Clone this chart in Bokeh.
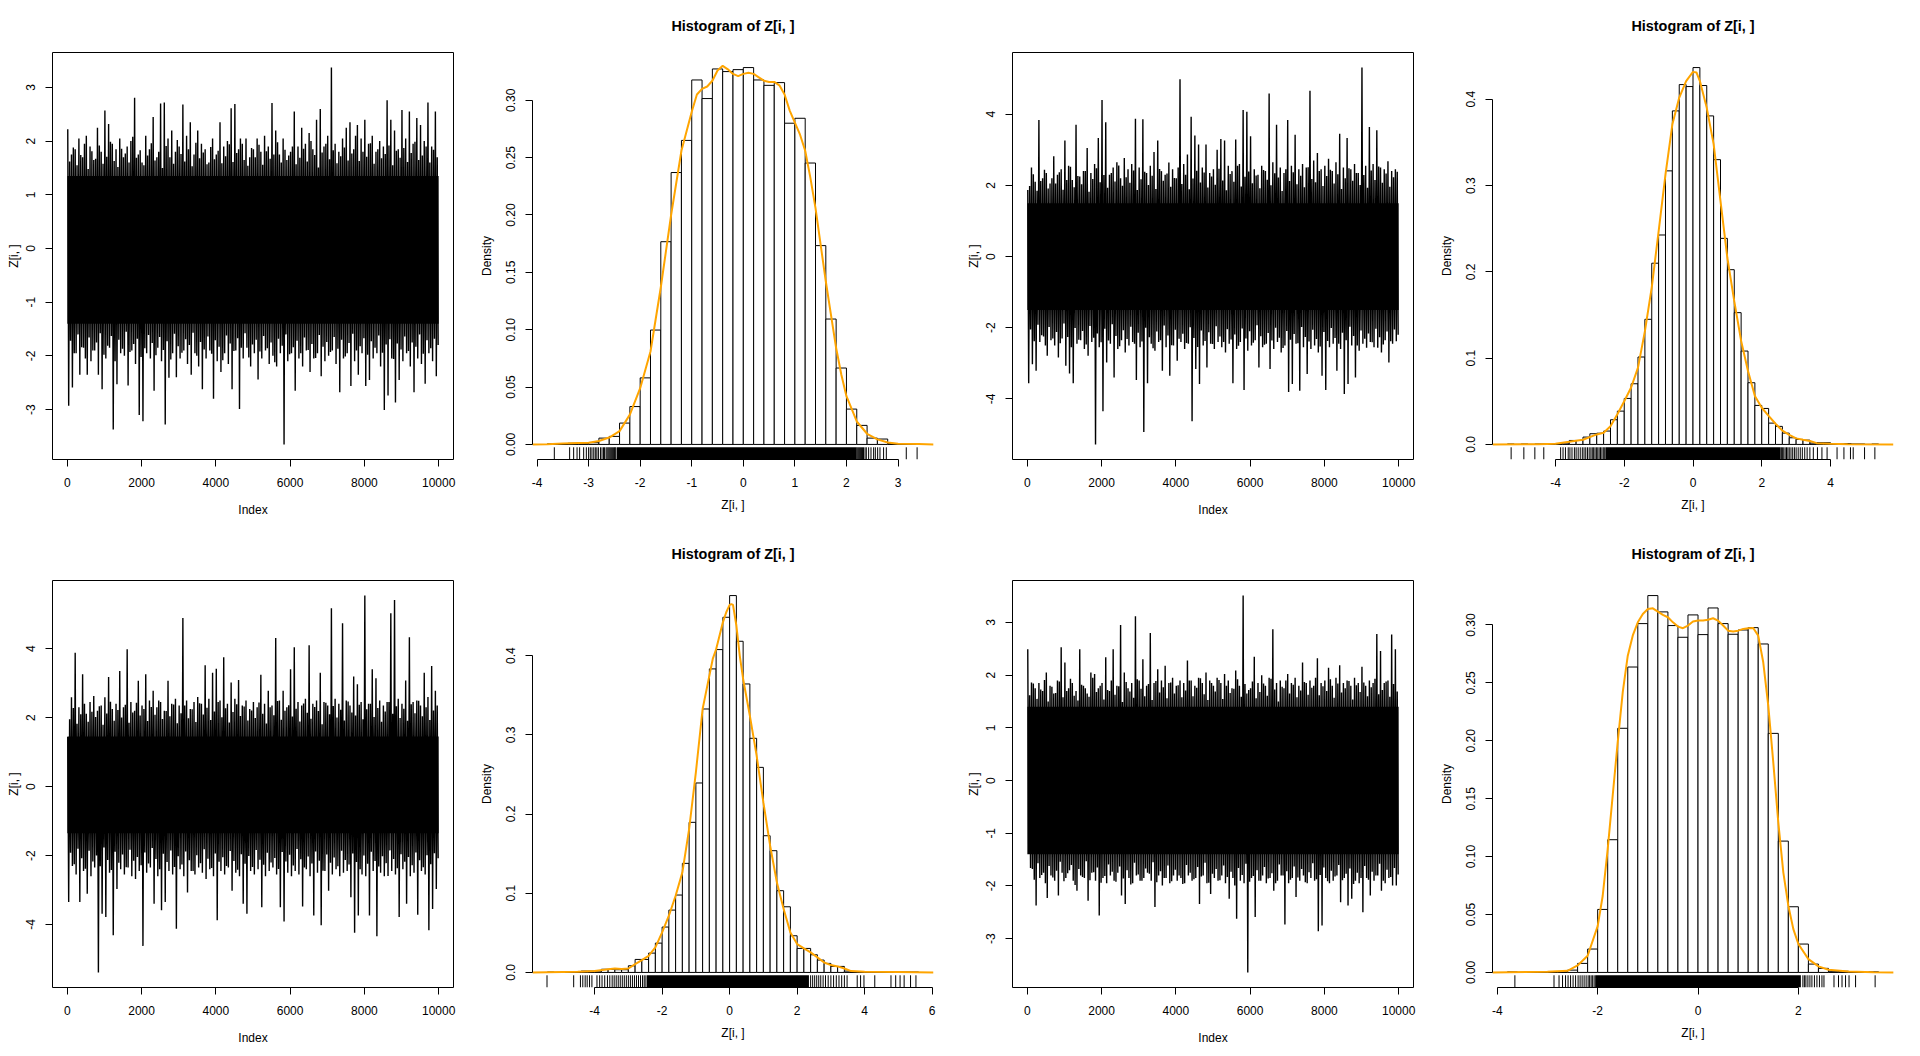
from bokeh.plotting import figure
from bokeh.layouts import gridplot
from bokeh.models import Range1d, FixedTicker, NumeralTickFormatter, LinearAxis
from bokeh.embed import file_html
from bokeh.resources import INLINE

# ---------------- data: trace plots ----------------
# per 100-index slot: main extremes (hi/lo, incl. the tall spikes) and secondary extremes (fill)
trace_slot = 100
trace_n = 10000

trace1_hi = [2.22, 1.75, 1.85, 2.05, 1.70, 2.10, 1.90, 1.65, 2.25, 1.80,
             2.57, 2.32, 1.95, 1.85, 2.05, 1.70, 1.90, 2.00, 2.81, 1.75,
             1.60, 2.10, 1.85, 2.45, 1.70, 2.70, 2.72, 2.05, 2.20, 1.80,
             1.90, 2.68, 2.10, 2.35, 1.75, 2.20, 1.95, 1.85, 1.60, 2.05,
             1.75, 2.35, 1.90, 2.00, 2.61, 2.69, 1.85, 1.95, 2.05, 1.70,
             1.85, 2.05, 1.80, 2.10, 1.90, 2.71, 2.20, 1.75, 2.05, 1.65,
             1.80, 2.55, 1.90, 2.25, 1.95, 2.15, 1.85, 2.40, 2.60, 1.90,
             2.10, 3.37, 1.95, 1.80, 2.05, 2.25, 2.35, 1.85, 2.30, 2.05,
             2.40, 1.95, 2.10, 1.80, 2.00, 1.90, 2.76, 2.40, 2.20, 1.85,
             2.58, 2.05, 2.55, 1.95, 2.43, 2.30, 2.00, 2.72, 1.90, 2.55]
trace1_lo = [-2.93, -2.59, -1.95, -2.35, -1.85, -2.35, -2.10, -1.90, -2.35, -2.62,
             -2.05, -1.85, -3.37, -2.53, -1.95, -2.00, -2.55, -1.90, -2.15, -3.10,
             -3.22, -1.95, -2.05, -2.65, -1.85, -2.10, -3.28, -2.41, -1.95, -2.40,
             -2.05, -1.90, -2.15, -2.35, -1.95, -2.20, -2.62, -2.05, -1.90, -2.80,
             -2.10, -2.30, -1.95, -2.15, -2.62, -1.90, -2.99, -2.05, -1.85, -2.20,
             -1.95, -2.44, -2.05, -1.90, -2.15, -2.00, -2.20, -1.95, -3.65, -2.10,
             -1.95, -2.65, -2.05, -2.20, -1.90, -2.30, -2.05, -1.95, -2.38, -2.10,
             -2.00, -1.90, -2.15, -2.68, -2.05, -1.95, -2.56, -2.10, -2.35, -1.95,
             -2.56, -2.45, -2.05, -1.95, -2.20, -3.01, -2.74, -2.05, -2.87, -2.45,
             -2.10, -1.95, -2.20, -2.68, -2.05, -2.15, -2.52, -1.95, -2.10, -2.38]
trace1_hi_fill = [1.62, 1.88, 1.55, 1.74, 1.95, 1.48, 1.81, 1.67, 1.92, 1.58,
                  1.71, 1.99, 1.63, 1.52, 1.86, 1.77, 1.60, 2.08, 1.69, 1.83,
                  1.55, 1.73, 1.96, 1.64, 1.80, 1.50, 1.91, 1.70, 1.58, 2.02,
                  1.76, 1.62, 1.85, 1.53, 1.97, 1.68, 1.79, 1.57, 1.89, 1.66,
                  1.82, 1.59, 1.72, 1.94, 1.61, 1.78, 2.05, 1.65, 1.54, 1.87,
                  1.70, 1.93, 1.56, 1.81, 1.67, 1.75, 1.98, 1.60, 1.84, 1.73,
                  1.90, 1.57, 1.69, 1.86, 1.62, 2.00, 1.74, 1.51, 1.79, 1.95,
                  1.66, 1.83, 1.59, 1.72, 1.88, 1.64, 1.77, 2.10, 1.63, 1.80,
                  1.71, 1.96, 1.58, 1.85, 1.68, 1.76, 1.92, 1.55, 1.82, 1.69,
                  1.87, 1.61, 1.78, 1.99, 1.65, 1.73, 1.90, 1.60, 1.84, 1.70]
trace1_lo_fill = [-1.72, -1.95, -1.60, -1.84, -2.05, -1.66, -1.90, -1.75, -1.58, -1.98,
                  -1.81, -1.63, -2.10, -1.70, -1.87, -1.55, -1.93, -1.78, -1.68, -2.02,
                  -1.86, -1.61, -1.76, -1.99, -1.65, -1.89, -1.73, -2.07, -1.59, -1.82,
                  -1.94, -1.69, -1.80, -1.57, -2.00, -1.74, -1.88, -1.64, -1.96, -1.71,
                  -1.83, -2.08, -1.62, -1.77, -1.91, -1.67, -1.85, -1.58, -2.03, -1.79,
                  -1.70, -1.92, -1.63, -1.86, -1.75, -2.12, -1.68, -1.81, -1.60, -1.97,
                  -1.84, -1.72, -1.95, -1.66, -1.89, -1.78, -2.04, -1.61, -1.83, -1.74,
                  -1.93, -1.65, -1.87, -1.70, -2.01, -1.76, -1.59, -1.90, -1.82, -1.67,
                  -1.98, -1.73, -1.85, -1.62, -1.94, -1.79, -1.69, -2.06, -1.77, -1.88,
                  -1.64, -1.91, -1.75, -1.83, -1.60, -1.96, -1.71, -1.86, -1.68, -1.80]
trace1_core = (-1.40, 1.35)

trace2_hi = [1.87, 2.50, 2.10, 3.84, 2.20, 2.35, 2.05, 2.82, 2.30, 2.45,
             3.26, 2.55, 2.15, 3.70, 2.25, 2.40, 3.05, 2.35, 2.60, 3.33,
             4.40, 3.77, 2.30, 2.50, 2.65, 2.20, 2.77, 2.45, 2.60, 3.87,
             2.50, 3.86, 2.35, 2.55, 2.94, 3.26, 2.40, 2.30, 2.64, 2.45,
             2.20, 4.98, 2.60, 2.87, 3.93, 3.40, 3.15, 2.50, 3.15, 2.35,
             2.45, 3.00, 3.30, 3.26, 2.55, 2.40, 3.29, 2.60, 4.12, 4.07,
             3.38, 2.45, 2.30, 2.55, 2.40, 4.58, 2.65, 3.70, 2.50, 2.35,
             3.84, 2.55, 3.42, 2.45, 2.60, 2.50, 4.66, 2.70, 2.91, 2.45,
             2.55, 2.75, 2.40, 2.65, 3.45, 2.50, 3.33, 2.45, 2.60, 2.35,
             5.31, 2.55, 3.64, 2.60, 3.55, 2.50, 2.45, 2.68, 2.40, 2.45]
trace2_lo = [-3.56, -3.03, -3.21, -2.40, -2.25, -2.79, -2.35, -2.50, -2.84, -2.30,
             -3.07, -3.29, -3.56, -2.45, -2.35, -2.60, -2.79, -2.40, -5.28, -2.55,
             -4.35, -2.98, -2.45, -3.40, -2.60, -2.35, -2.70, -2.50, -2.40, -3.47,
             -2.55, -4.93, -3.56, -2.45, -2.65, -2.40, -3.21, -2.55, -3.35, -2.50,
             -2.93, -2.40, -2.60, -2.45, -4.63, -3.16, -3.58, -2.50, -3.12, -2.45,
             -2.60, -2.40, -2.55, -2.70, -2.45, -3.56, -2.60, -2.40, -3.75, -2.65,
             -2.50, -2.35, -3.12, -2.55, -2.45, -3.16, -2.60, -2.40, -2.70, -2.50,
             -3.81, -3.58, -2.45, -3.77, -2.55, -3.30, -2.60, -2.50, -2.70, -3.35,
             -3.75, -2.55, -2.45, -3.21, -2.60, -3.86, -3.58, -2.50, -3.40, -2.65,
             -2.45, -2.56, -2.40, -2.55, -2.56, -2.70, -2.35, -2.98, -2.45, -2.38]
trace2_hi_fill = [1.98, 2.31, 1.85, 2.12, 2.44, 1.91, 2.20, 2.05, 2.37, 1.88,
                  2.15, 2.52, 1.95, 2.26, 2.03, 2.40, 1.82, 2.18, 2.48, 2.09,
                  2.29, 1.93, 2.35, 2.11, 2.56, 1.99, 2.23, 2.07, 2.42, 1.87,
                  2.17, 2.38, 2.01, 2.27, 1.90, 2.46, 2.13, 2.33, 1.96, 2.21,
                  2.50, 2.04, 2.30, 1.89, 2.19, 2.41, 2.08, 2.36, 1.94, 2.25,
                  2.02, 2.47, 2.14, 1.86, 2.32, 2.10, 2.55, 1.97, 2.24, 2.39,
                  2.06, 2.28, 1.92, 2.43, 2.16, 2.00, 2.34, 2.22, 1.84, 2.45,
                  2.12, 2.37, 2.03, 2.27, 1.95, 2.51, 2.18, 2.09, 2.40, 1.98,
                  2.26, 2.44, 2.05, 2.31, 1.90, 2.20, 2.48, 2.13, 2.35, 2.01,
                  2.29, 1.93, 2.42, 2.15, 2.53, 2.07, 2.33, 1.96, 2.23, 2.38]
trace2_lo_fill = [-2.05, -2.38, -1.92, -2.21, -2.50, -1.98, -2.30, -2.12, -2.44, -1.88,
                  -2.26, -2.55, -2.01, -2.34, -2.09, -2.47, -1.95, -2.28, -2.16, -2.41,
                  -2.03, -2.36, -1.90, -2.23, -2.52, -2.07, -2.32, -1.97, -2.45, -2.14,
                  -2.39, -2.00, -2.27, -2.58, -2.11, -2.35, -1.94, -2.22, -2.49, -2.06,
                  -2.31, -2.17, -2.43, -1.99, -2.29, -2.54, -2.08, -2.37, -2.13, -2.46,
                  -1.96, -2.25, -2.40, -2.04, -2.33, -2.19, -2.51, -2.02, -2.30, -2.10,
                  -2.42, -1.93, -2.24, -2.48, -2.15, -2.36, -2.00, -2.28, -2.57, -2.09,
                  -2.34, -2.18, -2.44, -1.98, -2.26, -2.39, -2.06, -2.32, -2.53, -2.12,
                  -2.37, -2.01, -2.29, -2.45, -2.14, -2.35, -1.97, -2.23, -2.50, -2.08,
                  -2.31, -2.16, -2.41, -2.03, -2.27, -2.47, -2.11, -2.38, -2.05, -2.20]
trace2_core = (-1.50, 1.50)

trace3_hi = [1.44, 2.59, 3.88, 2.30, 3.26, 2.11, 2.45, 2.63, 2.20, 2.35,
             2.59, 3.18, 2.25, 2.40, 3.35, 2.30, 3.98, 2.45, 2.20, 3.07,
             2.35, 3.26, 2.50, 2.78, 2.30, 2.45, 2.20, 3.07, 2.40, 2.55,
             2.35, 4.89, 2.50, 2.25, 2.45, 2.60, 2.40, 3.52, 2.55, 3.30,
             3.42, 2.50, 3.75, 2.40, 3.02, 2.55, 3.09, 2.35, 2.50, 2.25,
             2.45, 2.30, 3.24, 2.40, 2.78, 2.35, 4.31, 2.50, 2.78, 2.30,
             3.40, 4.04, 2.45, 2.35, 2.55, 4.10, 2.40, 2.50, 3.30, 2.45,
             2.35, 5.17, 2.55, 2.40, 4.74, 2.50, 2.35, 3.19, 2.97, 2.45,
             5.54, 2.40, 3.40, 3.14, 2.50, 2.35, 2.45, 5.03, 5.41, 2.55,
             2.40, 3.08, 4.33, 2.45, 2.50, 2.35, 3.30, 2.60, 3.50, 2.78]
trace3_lo = [-3.35, -2.30, -2.55, -3.35, -2.45, -3.11, -2.60, -2.35, -5.39, -3.69,
             -3.78, -2.50, -4.31, -2.97, -2.40, -2.55, -2.35, -2.60, -2.68, -2.45,
             -4.62, -2.50, -2.35, -3.40, -2.60, -3.59, -3.35, -2.45, -2.55, -4.12,
             -2.40, -2.60, -3.07, -2.45, -2.55, -2.35, -2.50, -2.68, -2.40, -2.60,
             -3.88, -2.45, -2.55, -2.35, -3.02, -2.50, -2.60, -3.40, -3.69, -2.45,
             -2.55, -2.40, -3.50, -2.60, -2.45, -2.35, -2.55, -3.50, -3.91, -2.50,
             -2.60, -2.45, -2.55, -3.48, -2.40, -2.60, -3.74, -2.50, -4.02, -2.45,
             -3.02, -2.55, -2.40, -2.60, -2.50, -2.45, -3.21, -4.24, -3.74, -2.55,
             -2.60, -3.74, -2.45, -4.34, -2.50, -2.60, -2.59, -2.45, -2.55, -3.78,
             -2.40, -3.40, -2.60, -2.50, -3.72, -2.45, -2.55, -4.17, -3.55, -2.97]
trace3_hi_fill = [1.95, 2.28, 1.82, 2.10, 2.40, 1.88, 2.17, 2.02, 2.33, 1.79,
                  2.12, 2.46, 1.91, 2.22, 2.00, 2.37, 1.85, 2.15, 2.43, 2.06,
                  2.25, 1.90, 2.31, 2.08, 2.50, 1.96, 2.19, 2.04, 2.38, 1.84,
                  2.13, 2.35, 1.98, 2.24, 1.87, 2.42, 2.09, 2.29, 1.93, 2.18,
                  2.45, 2.01, 2.27, 1.86, 2.16, 2.39, 2.05, 2.32, 1.92, 2.21,
                  1.99, 2.44, 2.11, 1.83, 2.30, 2.07, 2.48, 1.94, 2.20, 2.36,
                  2.03, 2.26, 1.89, 2.41, 2.14, 1.97, 2.31, 2.19, 1.81, 2.43,
                  2.10, 2.34, 2.00, 2.23, 1.92, 2.47, 2.15, 2.06, 2.37, 1.95,
                  2.24, 2.40, 2.02, 2.28, 1.88, 2.18, 2.45, 2.11, 2.33, 1.99,
                  2.26, 1.91, 2.39, 2.13, 2.49, 2.04, 2.30, 1.93, 2.21, 2.35]
trace3_lo_fill = [-1.92, -2.25, -1.80, -2.08, -2.38, -1.86, -2.17, -2.00, -2.31, -1.77,
                  -2.13, -2.42, -1.89, -2.21, -1.97, -2.34, -1.83, -2.15, -2.04, -2.28,
                  -1.91, -2.23, -1.78, -2.10, -2.40, -1.95, -2.19, -1.85, -2.33, -2.02,
                  -2.26, -1.88, -2.14, -2.45, -1.99, -2.22, -1.82, -2.09, -2.36, -1.94,
                  -2.18, -2.05, -2.30, -1.87, -2.16, -2.41, -1.96, -2.24, -2.01, -2.33,
                  -1.84, -2.12, -2.27, -1.92, -2.20, -2.07, -2.39, -1.90, -2.17, -1.98,
                  -2.29, -1.81, -2.11, -2.35, -2.03, -2.23, -1.88, -2.15, -2.44, -1.97,
                  -2.21, -2.06, -2.31, -1.86, -2.13, -2.26, -1.94, -2.19, -2.40, -2.00,
                  -2.24, -1.89, -2.16, -2.32, -2.02, -2.22, -1.85, -2.10, -2.37, -1.96,
                  -2.18, -2.04, -2.28, -1.91, -2.14, -2.34, -1.99, -2.25, -1.93, -2.08]
trace3_core = (-1.35, 1.45)

trace4_hi = [2.49, 1.86, 1.75, 1.85, 1.70, 2.05, 1.80, 1.65, 1.90, 2.53,
             2.24, 1.75, 1.85, 1.70, 2.49, 1.80, 1.65, 2.05, 2.02, 1.75,
             1.85, 2.34, 1.70, 2.49, 1.80, 2.95, 2.05, 1.75, 1.85, 3.12,
             1.90, 2.30, 1.80, 2.80, 1.85, 2.11, 1.90, 2.18, 1.85, 1.95,
             1.80, 1.90, 1.85, 2.28, 1.90, 1.80, 1.95, 1.85, 2.05, 1.90,
             1.80, 1.95, 1.85, 2.02, 1.90, 1.75, 2.09, 1.80, 3.51, 1.65,
             1.75, 2.35, 1.85, 2.00, 1.80, 1.95, 2.87, 1.85, 1.90, 1.75,
             2.02, 1.85, 1.95, 1.80, 2.24, 1.85, 1.90, 1.80, 2.32, 1.85,
             1.90, 2.14, 1.80, 1.95, 2.19, 1.85, 1.90, 1.80, 1.95, 1.85,
             2.16, 1.80, 1.90, 1.85, 2.78, 2.46, 1.85, 1.90, 2.77, 2.49]
trace4_lo = [-1.30, -1.68, -2.37, -1.85, -1.75, -2.23, -1.80, -1.90, -2.18, -1.75,
             -1.85, -1.70, -1.90, -2.09, -1.80, -1.85, -2.28, -1.75, -1.90, -2.56,
             -1.85, -1.95, -1.80, -1.90, -1.75, -2.18, -2.34, -1.85, -1.95, -1.80,
             -1.90, -1.85, -1.75, -1.90, -2.40, -1.80, -1.99, -1.85, -1.95, -1.80,
             -1.90, -1.85, -1.95, -1.80, -1.90, -1.85, -2.34, -1.80, -1.95, -2.15,
             -1.85, -1.90, -1.80, -1.95, -2.24, -1.85, -2.62, -1.90, -1.95, -3.64,
             -1.85, -2.59, -1.90, -1.80, -1.95, -1.85, -2.09, -1.90, -1.80, -2.73,
             -1.95, -1.85, -2.21, -1.90, -1.80, -1.95, -1.85, -1.90, -2.86, -2.75,
             -1.85, -1.95, -1.90, -1.80, -2.31, -1.85, -2.37, -2.24, -1.90, -1.95,
             -2.50, -1.85, -2.18, -1.90, -1.80, -2.09, -1.95, -1.85, -1.99, -1.99]
trace4_hi_fill = [1.62, 1.84, 1.55, 1.73, 1.91, 1.50, 1.78, 1.66, 1.88, 1.58,
                  1.70, 1.93, 1.61, 1.52, 1.82, 1.75, 1.59, 1.95, 1.68, 1.80,
                  1.54, 1.72, 1.90, 1.63, 1.79, 1.49, 1.87, 1.69, 1.57, 1.92,
                  1.74, 1.60, 1.83, 1.53, 1.89, 1.67, 1.77, 1.56, 1.86, 1.65,
                  1.81, 1.58, 1.71, 1.90, 1.60, 1.76, 1.94, 1.64, 1.53, 1.85,
                  1.69, 1.91, 1.55, 1.80, 1.66, 1.74, 1.92, 1.59, 1.83, 1.72,
                  1.88, 1.56, 1.68, 1.84, 1.61, 1.93, 1.73, 1.50, 1.78, 1.90,
                  1.65, 1.82, 1.58, 1.71, 1.87, 1.63, 1.76, 1.95, 1.62, 1.79,
                  1.70, 1.92, 1.57, 1.84, 1.67, 1.75, 1.89, 1.54, 1.81, 1.68,
                  1.86, 1.60, 1.77, 1.93, 1.64, 1.72, 1.88, 1.59, 1.83, 1.69]
trace4_lo_fill = [-1.66, -1.88, -1.57, -1.79, -1.95, -1.62, -1.84, -1.71, -1.54, -1.91,
                  -1.76, -1.60, -1.98, -1.68, -1.83, -1.53, -1.89, -1.74, -1.65, -1.94,
                  -1.81, -1.59, -1.73, -1.92, -1.63, -1.86, -1.70, -1.97, -1.56, -1.78,
                  -1.90, -1.67, -1.77, -1.55, -1.93, -1.72, -1.85, -1.61, -1.91, -1.69,
                  -1.80, -1.96, -1.60, -1.75, -1.87, -1.64, -1.82, -1.56, -1.94, -1.77,
                  -1.68, -1.89, -1.61, -1.83, -1.73, -1.99, -1.66, -1.79, -1.58, -1.92,
                  -1.81, -1.70, -1.90, -1.64, -1.86, -1.76, -1.95, -1.59, -1.80, -1.72,
                  -1.88, -1.63, -1.84, -1.68, -1.93, -1.74, -1.57, -1.87, -1.79, -1.65,
                  -1.91, -1.71, -1.82, -1.60, -1.89, -1.77, -1.67, -1.96, -1.75, -1.85,
                  -1.62, -1.88, -1.73, -1.80, -1.58, -1.90, -1.69, -1.83, -1.66, -1.78]
trace4_core = (-1.40, 1.40)

trace_xticks = [0, 2000, 4000, 6000, 8000, 10000]
trace1_yticks = [-3, -2, -1, 0, 1, 2, 3]
trace2_yticks = [-4, -2, 0, 2, 4]
trace3_yticks = [-4, -2, 0, 2, 4]
trace4_yticks = [-3, -2, -1, 0, 1, 2, 3]

# ---------------- data: histograms (density per 0.2 bin) ----------------
bin_width = 0.2

hist1_start = -3.8
hist1_dens = [0.0005, 0.0, 0.001, 0.001, 0.0015, 0.0055, 0.007, 0.0186, 0.033, 0.058,
              0.0997, 0.1767, 0.237, 0.265, 0.3177, 0.3015, 0.3273, 0.325, 0.3267,
              0.3285, 0.3177, 0.313, 0.3154, 0.280, 0.2843, 0.2453, 0.1733, 0.1093, 0.0666, 0.0308,
              0.0166, 0.0055, 0.0047, 0.0006, 0.0, 0.0005]
kde1_x = [-4.09, -3.8, -3.5, -3.2, -3.0, -2.8, -2.6, -2.4, -2.2, -2.0, -1.8, -1.6, -1.4, -1.2,
          -1.0, -0.9, -0.8, -0.7, -0.6, -0.5, -0.4, -0.3, -0.2, -0.1, 0.0, 0.1, 0.2, 0.3, 0.4,
          0.5, 0.6, 0.7, 0.8, 0.9, 1.0, 1.1, 1.2, 1.3, 1.4, 1.5, 1.6, 1.7, 1.8, 1.9, 2.0, 2.2,
          2.4, 2.6, 2.8, 3.0, 3.4, 3.69]
kde1_y = [0.0, 0.0002, 0.0007, 0.0012, 0.0015, 0.003, 0.006, 0.0116, 0.026, 0.049, 0.081, 0.137,
          0.200, 0.256, 0.290, 0.305, 0.310, 0.312, 0.317, 0.326, 0.330, 0.327, 0.323, 0.321,
          0.323, 0.324, 0.323, 0.320, 0.317, 0.316, 0.316, 0.313, 0.305, 0.291, 0.2805, 0.270,
          0.256, 0.2326, 0.206, 0.174, 0.142, 0.113, 0.084, 0.061, 0.042, 0.020, 0.0093, 0.0044,
          0.0017, 0.0006, 0.0003, 0.0]
rug1_dense = (-2.45, 2.20)
rug1_ticks = [-3.665, -3.368, -3.29, -3.224, -3.174, -3.096, -3.044, -3.0, -2.967, -2.935, -2.90,
              -2.87, -2.84, -2.81, -2.77, -2.74, -2.71, -2.69, -2.66, -2.64, -2.62, -2.60, -2.58,
              -2.56, -2.54, -2.52, -2.50, -2.485, -2.47,
              2.21, 2.23, 2.25, 2.27, 2.29, 2.31,
              2.33, 2.36, 2.385, 2.43, 2.476, 2.527, 2.56, 2.605, 2.65, 2.72, 2.773, 3.16, 3.37]
hist1_xticks = [-4, -3, -2, -1, 0, 1, 2, 3]
hist1_yticks = [0.0, 0.05, 0.10, 0.15, 0.20, 0.25, 0.30]

hist2_start = -5.4
hist2_dens = [0.0005, 0.0, 0.0005, 0.0, 0.0005, 0.0005, 0.0, 0.0008,
              0.0015, 0.0046, 0.0046, 0.0085, 0.0124, 0.013, 0.0155, 0.0286, 0.0386, 0.0533,
              0.0703, 0.1013, 0.145, 0.210, 0.2427, 0.317, 0.3865, 0.417, 0.4147,
              0.4367, 0.4159, 0.3807, 0.330, 0.2388, 0.2025, 0.1527, 0.1082, 0.0715, 0.0452,
              0.0417, 0.0247, 0.0209, 0.0131, 0.0077, 0.0058, 0.005, 0.0015, 0.002, 0.002,
              0.0008, 0.0005, 0.001, 0.0005, 0.0005, 0.0, 0.0005]
kde2_x = [-5.83, -4.5, -4.0, -3.6, -3.2, -2.8, -2.6, -2.4, -2.2, -2.0, -1.8, -1.6, -1.4, -1.2,
          -1.0, -0.8, -0.6, -0.4, -0.2, 0.0, 0.1, 0.2, 0.4, 0.6, 0.8, 1.0, 1.2, 1.4, 1.6, 1.8,
          2.0, 2.2, 2.4, 2.6, 2.8, 3.0, 3.2, 3.4, 3.6, 4.0, 4.5, 5.83]
kde2_y = [0.0, 0.0002, 0.0008, 0.003, 0.0054, 0.0116, 0.0135, 0.021, 0.035, 0.050, 0.066, 0.089,
          0.131, 0.182, 0.247, 0.313, 0.371, 0.402, 0.421, 0.4317, 0.431, 0.421, 0.390, 0.348,
          0.282, 0.216, 0.166, 0.120, 0.085, 0.056, 0.0425, 0.033, 0.024, 0.016, 0.011, 0.007,
          0.0054, 0.004, 0.0015, 0.0008, 0.0002, 0.0]
rug2_dense = (-2.55, 2.55)
rug2_ticks = [-5.29, -4.92, -4.60, -4.34, -3.85, -3.78, -3.71, -3.63, -3.58, -3.52, -3.45, -3.40,
              -3.34, -3.28, -3.22, -3.17, -3.12, -3.07, -3.02, -2.97, -2.93, -2.89, -2.85, -2.81,
              -2.77, -2.73, -2.69, -2.65, -2.61, -2.58,
              2.57, 2.60, 2.64, 2.68, 2.72, 2.76,
              2.80, 2.85, 2.90, 2.95, 3.00, 3.06, 3.12, 3.18, 3.25, 3.32, 3.40, 3.50, 3.62, 3.75,
              3.90, 4.19, 4.39, 4.58, 4.66, 4.99, 5.29]
hist2_xticks = [-4, -2, 0, 2, 4]
hist2_yticks = [0.0, 0.1, 0.2, 0.3, 0.4]

hist3_start = -5.4
hist3_dens = [0.0005, 0.0, 0.0, 0.0, 0.0005, 0.0017, 0.0017, 0.0017,
              0.004, 0.004, 0.0034, 0.0034, 0.0084, 0.0164, 0.0164, 0.0244, 0.037, 0.0573,
              0.0787, 0.0977, 0.1377, 0.1895, 0.2392, 0.3326, 0.3832, 0.4076, 0.4484,
              0.4758, 0.4181, 0.3642, 0.2956, 0.2589, 0.1726, 0.1537, 0.1032, 0.0829, 0.0463,
              0.0303, 0.0303, 0.0223, 0.0156, 0.0114, 0.0076, 0.0076, 0.0017, 0.0005, 0.001,
              0.0005, 0.0005, 0.0, 0.0, 0.0005, 0.0005, 0.0005, 0.0005]
kde3_x = [-5.84, -4.5, -4.0, -3.6, -3.4, -3.2, -3.0, -2.8, -2.6, -2.4, -2.2, -2.0, -1.8, -1.6,
          -1.4, -1.2, -1.0, -0.8, -0.6, -0.5, -0.4, -0.3, -0.2, -0.1, 0.0, 0.05, 0.1, 0.2, 0.3,
          0.4, 0.6, 0.8, 1.0, 1.2, 1.4, 1.6, 1.8, 2.0, 2.2, 2.4, 2.6, 2.8, 3.0, 3.2, 3.4, 3.6,
          4.0, 5.0, 6.04]
kde3_y = [0.0, 0.0008, 0.0017, 0.004, 0.005, 0.0042, 0.005, 0.0105, 0.0156, 0.021, 0.0316,
          0.0505, 0.0716, 0.0968, 0.1263, 0.181, 0.2526, 0.3326, 0.3747, 0.3958, 0.408, 0.425,
          0.442, 0.4547, 0.464, 0.465, 0.464, 0.438, 0.400, 0.3705, 0.324, 0.2737, 0.2147, 0.160,
          0.1137, 0.080, 0.0505, 0.0358, 0.0303, 0.0253, 0.019, 0.0126, 0.0093, 0.0076, 0.005,
          0.0017, 0.001, 0.0005, 0.0]
rug3_dense = (-2.45, 2.35)
rug3_ticks = [-5.41, -4.62, -4.42, -4.35, -4.28, -4.22, -4.15, -4.08, -3.93, -3.85, -3.78, -3.70,
              -3.62, -3.55, -3.48, -3.42, -3.36, -3.30, -3.24, -3.18, -3.12, -3.06, -3.00, -2.94,
              -2.88, -2.82, -2.76, -2.70, -2.64, -2.58, -2.53, -2.48,
              2.40, 2.46, 2.52, 2.58, 2.64, 2.70,
              2.77, 2.84, 2.92, 3.00, 3.08, 3.16, 3.24, 3.32, 3.40, 3.48, 3.78, 3.88, 3.98, 4.30,
              4.78, 4.92, 5.05, 5.17, 5.36, 5.52]
hist3_xticks = [-4, -2, 0, 2, 4, 6]
hist3_yticks = [0.0, 0.1, 0.2, 0.3, 0.4]

hist4_start = -3.8
hist4_dens = [0.0005, 0.0, 0.0, 0.0, 0.0, 0.0005, 0.002, 0.0078, 0.0202, 0.0544,
              0.1146, 0.2108, 0.2637, 0.3012, 0.3254, 0.3113, 0.2995, 0.2894, 0.3087,
              0.2917, 0.3147, 0.3012, 0.292, 0.2957, 0.2977, 0.2836, 0.2064, 0.1134, 0.0567,
              0.0245, 0.0072, 0.0035, 0.001, 0.001, 0.0005, 0.0, 0.0005]
kde4_x = [-4.10, -3.0, -2.6, -2.4, -2.2, -2.0, -1.9, -1.8, -1.7, -1.6, -1.5, -1.4, -1.3, -1.2,
          -1.1, -1.0, -0.9, -0.8, -0.7, -0.6, -0.5, -0.4, -0.3, -0.2, -0.1, 0.0, 0.1, 0.2, 0.3,
          0.4, 0.5, 0.6, 0.7, 0.8, 0.9, 1.0, 1.1, 1.2, 1.3, 1.4, 1.5, 1.6, 1.7, 1.8, 1.9, 2.0,
          2.2, 2.4, 2.6, 3.0, 3.5, 3.9]
kde4_y = [0.0, 0.0005, 0.0014, 0.006, 0.0144, 0.040, 0.066, 0.1065, 0.153, 0.199, 0.242, 0.2735,
          0.291, 0.3023, 0.3095, 0.3138, 0.3144, 0.3115, 0.3087, 0.3067, 0.3023, 0.2986, 0.2972,
          0.2995, 0.303, 0.3038, 0.3038, 0.3046, 0.3058, 0.3038, 0.2995, 0.2951, 0.2943, 0.2951,
          0.2966, 0.2972, 0.2974, 0.2908, 0.2678, 0.2303, 0.1814, 0.1296, 0.0864, 0.0576, 0.0374,
          0.0245, 0.0115, 0.0052, 0.0023, 0.0007, 0.0002, 0.0]
rug4_dense = (-2.05, 2.05)
rug4_ticks = [-3.65, -2.87, -2.77, -2.70, -2.64, -2.59, -2.54, -2.49, -2.44, -2.39, -2.35, -2.31,
              -2.27, -2.23, -2.19, -2.16, -2.13, -2.10, -2.07,
              2.09, 2.12, 2.15, 2.19, 2.23, 2.27, 2.32,
              2.37, 2.42, 2.47, 2.51, 2.71, 2.80, 2.87, 2.94, 3.01, 3.14, 3.53]
hist4_xticks = [-4, -2, 0, 2]
hist4_yticks = [0.0, 0.05, 0.10, 0.15, 0.20, 0.25, 0.30]

hist_title = "Histogram of Z[i, ]"

# ---------------- styling ----------------
FONT = "Liberation Sans"
CELL_H = 528
TRACE_W, HIST_W = 472, 488        # together 960 = two 480-px cells


def style_axes(p, xlabel, ylabel, xlab_standoff, ylab_standoff):
    for ax in (p.xaxis[0], p.yaxis[0]):
        ax.major_tick_out = 7
        ax.major_tick_in = 0
        ax.minor_tick_out = 0
        ax.minor_tick_in = 0
        ax.axis_line_color = "black"
        ax.major_tick_line_color = "black"
        ax.major_label_text_font = FONT
        ax.major_label_text_font_size = "12px"
        ax.major_label_text_color = "black"
        ax.axis_label_text_font = FONT
        ax.axis_label_text_font_size = "12px"
        ax.axis_label_text_font_style = "normal"
        ax.axis_label_text_color = "black"
    p.xaxis[0].axis_label = xlabel
    p.yaxis[0].axis_label = ylabel
    p.xaxis[0].major_label_standoff = 11
    p.xaxis[0].axis_label_standoff = xlab_standoff
    p.yaxis[0].major_label_standoff = 10
    p.yaxis[0].major_label_orientation = "parallel"
    p.yaxis[0].axis_label_standoff = ylab_standoff
    p.grid.visible = False


def trace_panel(hi, lo, hi_fill, lo_fill, core, yticks):
    n = len(hi)
    xs, ys = [], []
    for k in range(n):
        base = k * trace_slot
        xs += [base + 12, base + 37, base + 62, base + 87]
        ys += [hi[k], lo[k], hi_fill[k], lo_fill[k]]
    dmin, dmax = min(min(lo), core[0]), max(max(hi), core[1])
    pad_y = 0.04 * (dmax - dmin)
    pad_x = 0.04 * (trace_n - 1)
    p = figure(width=TRACE_W, height=CELL_H, output_backend="svg", toolbar_location=None,
               x_range=Range1d(1 - pad_x, trace_n + pad_x),
               y_range=Range1d(dmin - pad_y, dmax + pad_y),
               min_border_left=52, min_border_right=19, min_border_top=52, min_border_bottom=65)
    p.outline_line_color = "black"
    p.outline_line_width = 1
    p.quad(left=[1], right=[trace_n], bottom=[core[0]], top=[core[1]],
           fill_color="black", line_color=None)
    p.line(xs, ys, line_color="black", line_width=1.4)
    style_axes(p, "Index", "Z[i, ]", 13, 3)
    p.xaxis[0].ticker = FixedTicker(ticks=trace_xticks)
    p.xaxis[0].bounds = (trace_xticks[0], trace_xticks[-1])
    p.xaxis[0].formatter = NumeralTickFormatter(format="0")
    p.yaxis[0].ticker = FixedTicker(ticks=yticks)
    p.yaxis[0].bounds = (yticks[0], yticks[-1])
    p.yaxis[0].formatter = NumeralTickFormatter(format="0")
    return p


def hist_panel(start, dens, kx, ky, rug_dense, rug_ticks, xticks, yticks, yfmt):
    n = len(dens)
    left = [round(start + k * bin_width, 4) for k in range(n)]
    right = [round(l + bin_width, 4) for l in left]
    x0, x1 = left[0], right[-1]
    m = max(dens)
    xr = Range1d(x0 - 0.04 * (x1 - x0), x1 + 0.04 * (x1 - x0))
    yr = Range1d(-0.04 * m, 1.04 * m)
    rug_len = 0.03 * (yr.end - yr.start)
    p = figure(width=HIST_W, height=CELL_H, output_backend="svg", toolbar_location=None,
               x_range=xr, y_range=yr,
               min_border_left=60, min_border_right=27, min_border_top=52, min_border_bottom=69)
    p.outline_line_color = None
    p.quad(left=left, right=right, bottom=[0] * n, top=dens,
           fill_color="white", line_color="black", line_width=1)
    # rug
    p.quad(left=[rug_dense[0]], right=[rug_dense[1]], bottom=[yr.start], top=[yr.start + rug_len],
           fill_color="black", line_color=None)
    p.segment(x0=rug_ticks, y0=[yr.start] * len(rug_ticks), x1=rug_ticks,
              y1=[yr.start + rug_len] * len(rug_ticks), line_color="black", line_width=1)
    p.line(kx, ky, line_color="#FFA500", line_width=2)
    style_axes(p, "Z[i, ]", "Density", 8, 10)
    p.xaxis[0].ticker = FixedTicker(ticks=xticks)
    p.xaxis[0].bounds = (xticks[0], xticks[-1])
    p.xaxis[0].formatter = NumeralTickFormatter(format="0")
    p.yaxis[0].ticker = FixedTicker(ticks=yticks)
    p.yaxis[0].bounds = (yticks[0], yticks[-1])
    p.yaxis[0].formatter = NumeralTickFormatter(format=yfmt)
    # main title: label of a tick-less axis above the frame
    top_axis = LinearAxis(ticker=FixedTicker(ticks=[]), axis_label=hist_title,
                          axis_line_color=None, major_tick_line_color=None,
                          major_tick_out=0, major_tick_in=0, minor_tick_out=0, minor_tick_in=0,
                          major_label_text_font_size="1px", major_label_standoff=0,
                          axis_label_standoff=19, axis_label_text_font=FONT,
                          axis_label_text_font_size="14.4px", axis_label_text_font_style="bold",
                          axis_label_text_color="black")
    p.add_layout(top_axis, "above")
    return p


p1 = trace_panel(trace1_hi, trace1_lo, trace1_hi_fill, trace1_lo_fill, trace1_core, trace1_yticks)
p2 = hist_panel(hist1_start, hist1_dens, kde1_x, kde1_y, rug1_dense, rug1_ticks,
                hist1_xticks, hist1_yticks, "0.00")
p3 = trace_panel(trace2_hi, trace2_lo, trace2_hi_fill, trace2_lo_fill, trace2_core, trace2_yticks)
p4 = hist_panel(hist2_start, hist2_dens, kde2_x, kde2_y, rug2_dense, rug2_ticks,
                hist2_xticks, hist2_yticks, "0.0")
p5 = trace_panel(trace3_hi, trace3_lo, trace3_hi_fill, trace3_lo_fill, trace3_core, trace3_yticks)
p6 = hist_panel(hist3_start, hist3_dens, kde3_x, kde3_y, rug3_dense, rug3_ticks,
                hist3_xticks, hist3_yticks, "0.0")
p7 = trace_panel(trace4_hi, trace4_lo, trace4_hi_fill, trace4_lo_fill, trace4_core, trace4_yticks)
p8 = hist_panel(hist4_start, hist4_dens, kde4_x, kde4_y, rug4_dense, rug4_ticks,
                hist4_xticks, hist4_yticks, "0.00")

grid = gridplot([[p1, p2, p3, p4], [p5, p6, p7, p8]], toolbar_location=None)

open("out.html", "w").write(file_html(grid, INLINE))
